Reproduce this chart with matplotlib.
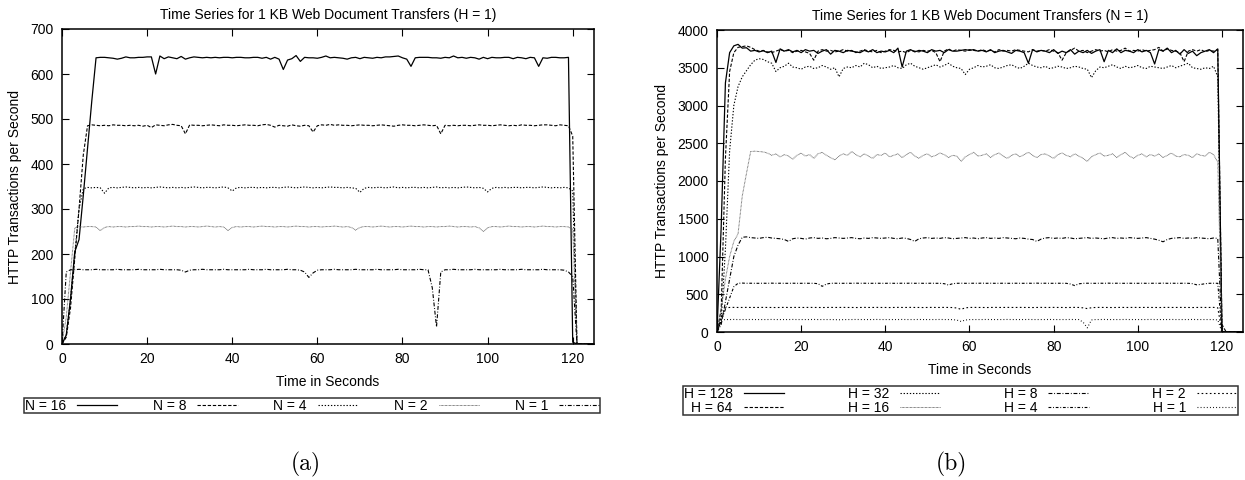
import matplotlib
matplotlib.use("Agg")
import matplotlib.pyplot as plt
import numpy as np

# ---------------- data ----------------
time_s = list(range(126))

# Panel (a): H = 1, varying N
n16 = [0, 20, 100, 205, 232, 330, 435, 540, 636, 637,
       637, 636, 635, 633, 635, 638, 636, 636, 637, 637,
       638, 638, 600, 640, 634, 638, 636, 634, 639, 633,
       636, 638, 637, 636, 637, 636, 637, 636, 637, 637,
       636, 637, 637, 636, 636, 637, 637, 635, 637, 633,
       637, 633, 610, 631, 634, 641, 628, 637, 636, 636,
       635, 637, 640, 636, 637, 636, 635, 633, 636, 637,
       634, 637, 636, 635, 637, 636, 638, 638, 639, 640,
       636, 633, 617, 636, 637, 637, 637, 636, 636, 635,
       637, 636, 640, 636, 637, 635, 637, 636, 633, 637,
       634, 637, 636, 636, 637, 637, 634, 637, 636, 634,
       637, 636, 617, 636, 635, 637, 637, 636, 636, 637,
       4, 0, 0, 0, 0, 0]
n8 = [0, 15, 80, 190, 300, 420, 485, 487, 486, 485,
      486, 485, 487, 486, 486, 485, 486, 485, 486, 484,
      486, 481, 487, 486, 485, 487, 488, 486, 485, 467,
      487, 486, 486, 485, 486, 487, 486, 485, 487, 486,
      486, 485, 486, 487, 486, 486, 485, 487, 488, 486,
      482, 486, 485, 484, 487, 485, 484, 486, 485, 471,
      485, 487, 486, 488, 486, 487, 486, 486, 485, 486,
      487, 486, 486, 485, 486, 487, 486, 485, 484, 486,
      487, 486, 486, 485, 486, 487, 486, 485, 486, 467,
      486, 485, 486, 485, 486, 486, 485, 486, 487, 486,
      486, 485, 486, 487, 486, 485, 486, 485, 487, 486,
      486, 485, 486, 487, 487, 486, 485, 487, 486, 485,
      462, 0, 0, 0, 0, 0]
n4 = [0, 20, 100, 200, 300, 345, 348, 347, 348, 347,
      335, 347, 348, 347, 348, 349, 348, 347, 348, 347,
      348, 347, 348, 349, 348, 347, 348, 347, 348, 347,
      348, 349, 348, 347, 348, 348, 347, 348, 349, 347,
      340, 347, 348, 347, 348, 348, 347, 348, 347, 348,
      348, 347, 348, 349, 348, 347, 348, 349, 348, 347,
      348, 347, 348, 349, 348, 348, 347, 348, 347, 346,
      337, 346, 348, 347, 348, 348, 347, 348, 349, 347,
      348, 347, 348, 348, 347, 348, 347, 348, 349, 347,
      348, 347, 348, 347, 348, 349, 348, 347, 348, 346,
      338, 346, 348, 347, 348, 347, 348, 348, 347, 348,
      348, 347, 348, 349, 348, 347, 348, 347, 348, 347,
      340, 0, 0, 0, 0, 0]
n2 = [0, 60, 160, 258, 261, 260, 261, 261, 260, 252,
      259, 261, 260, 261, 261, 260, 261, 261, 262, 261,
      261, 260, 261, 261, 260, 261, 262, 261, 261, 260,
      261, 261, 260, 261, 262, 261, 260, 261, 260, 252,
      259, 261, 260, 261, 261, 260, 261, 262, 261, 261,
      260, 261, 261, 260, 261, 262, 261, 261, 260, 261,
      261, 260, 261, 261, 262, 261, 260, 261, 259, 253,
      259, 261, 261, 260, 261, 262, 261, 260, 261, 261,
      260, 261, 262, 261, 261, 260, 261, 261, 260, 261,
      261, 262, 261, 260, 261, 261, 260, 261, 258, 250,
      258, 261, 261, 260, 261, 262, 261, 261, 260, 261,
      261, 260, 261, 262, 261, 261, 260, 261, 261, 260,
      255, 0, 0, 0, 0, 0]
n1 = [0, 160, 165, 165, 166, 165, 165, 165, 166, 165,
      165, 165, 165, 166, 165, 165, 165, 165, 166, 165,
      165, 165, 165, 166, 165, 165, 165, 165, 164, 160,
      164, 165, 165, 166, 165, 165, 165, 165, 166, 165,
      165, 165, 165, 165, 166, 165, 165, 165, 166, 165,
      165, 165, 165, 166, 165, 165, 164, 160, 148, 158,
      164, 165, 165, 165, 166, 165, 165, 165, 165, 166,
      165, 165, 165, 165, 166, 165, 165, 165, 165, 166,
      165, 165, 165, 165, 166, 165, 165, 125, 38, 160,
      165, 165, 166, 165, 165, 165, 165, 166, 165, 165,
      165, 165, 165, 166, 165, 165, 165, 165, 166, 165,
      165, 165, 165, 166, 165, 165, 165, 165, 164, 160,
      150, 0, 0, 0, 0, 0]

# Panel (b): N = 1, varying H
h128 = [0, 1400, 3300, 3700, 3790, 3810, 3760, 3765, 3720, 3730,
        3710, 3725, 3700, 3720, 3570, 3750, 3720, 3740, 3710, 3730,
        3700, 3740, 3720, 3730, 3690, 3720, 3740, 3680, 3730, 3720,
        3700, 3730, 3720, 3710, 3700, 3730, 3710, 3740, 3700, 3720,
        3710, 3730, 3700, 3760, 3510, 3720, 3740, 3710, 3730, 3720,
        3700, 3740, 3720, 3730, 3700, 3740, 3720, 3720, 3730, 3740,
        3730, 3740, 3720, 3730, 3710, 3740, 3700, 3720, 3730, 3710,
        3690, 3730, 3720, 3700, 3560, 3740, 3710, 3730, 3720, 3700,
        3740, 3690, 3720, 3700, 3740, 3680, 3720, 3700, 3730, 3690,
        3720, 3740, 3580, 3730, 3700, 3750, 3700, 3730, 3720, 3700,
        3740, 3710, 3730, 3700, 3550, 3740, 3720, 3760, 3700, 3730,
        3680, 3740, 3690, 3720, 3660, 3700, 3720, 3740, 3700, 3750,
        0, 0, 0, 0, 0, 0]
h64 = [0, 300, 2300, 3450, 3700, 3770, 3780, 3790, 3770, 3740,
       3720, 3730, 3710, 3700, 3720, 3740, 3720, 3730, 3700, 3720,
       3730, 3710, 3690, 3600, 3720, 3740, 3720, 3730, 3710, 3720,
       3740, 3720, 3730, 3700, 3720, 3740, 3720, 3710, 3730, 3700,
       3720, 3740, 3730, 3710, 3720, 3700, 3730, 3720, 3710, 3730,
       3720, 3730, 3700, 3580, 3720, 3750, 3720, 3740, 3730, 3720,
       3740, 3730, 3720, 3740, 3720, 3730, 3710, 3740, 3720, 3730,
       3720, 3740, 3730, 3720, 3710, 3740, 3720, 3730, 3720, 3740,
       3720, 3700, 3600, 3700, 3730, 3760, 3720, 3730, 3700, 3720,
       3740, 3720, 3730, 3710, 3740, 3720, 3730, 3760, 3720, 3730,
       3720, 3740, 3720, 3730, 3740, 3770, 3720, 3750, 3730, 3720,
       3700, 3580, 3720, 3740, 3720, 3740, 3710, 3730, 3720, 3740,
       100, 0, 0, 0, 0, 0]
h32 = [0, 150, 1100, 2400, 3000, 3250, 3380, 3460, 3540, 3600,
       3620, 3610, 3580, 3560, 3450, 3500, 3520, 3560, 3510, 3500,
       3480, 3510, 3520, 3490, 3500, 3530, 3510, 3480, 3500, 3380,
       3490, 3510, 3500, 3530, 3510, 3560, 3540, 3500, 3520, 3490,
       3500, 3510, 3530, 3500, 3490, 3540, 3560, 3520, 3500, 3480,
       3500, 3520, 3540, 3510, 3530, 3560, 3520, 3500, 3490, 3410,
       3480, 3500, 3530, 3510, 3520, 3540, 3500, 3490, 3510, 3530,
       3540, 3510, 3490, 3520, 3560, 3530, 3510, 3500, 3520, 3490,
       3500, 3520, 3510, 3490, 3500, 3520, 3510, 3490, 3480, 3370,
       3460, 3510, 3500, 3520, 3540, 3510, 3490, 3520, 3500, 3510,
       3530, 3500, 3490, 3520, 3510, 3500, 3490, 3510, 3530, 3500,
       3520, 3540, 3560, 3500, 3490, 3480, 3500, 3490, 3520, 3380,
       0, 0, 0, 0, 0, 0]
h16 = [0, 300, 700, 1000, 1200, 1300, 1800, 2100, 2390, 2395,
       2390, 2385, 2370, 2340, 2360, 2320, 2350, 2330, 2290, 2340,
       2370, 2330, 2350, 2300, 2360, 2380, 2340, 2310, 2280, 2330,
       2360, 2340, 2390, 2350, 2320, 2360, 2330, 2300, 2350, 2340,
       2370, 2320, 2340, 2360, 2310, 2350, 2380, 2330, 2300, 2340,
       2360, 2320, 2340, 2370, 2350, 2310, 2340, 2330, 2260, 2320,
       2350, 2380, 2330, 2340, 2360, 2310, 2350, 2370, 2330, 2300,
       2340, 2360, 2320, 2350, 2380, 2340, 2310, 2350, 2360, 2330,
       2300, 2350, 2370, 2340, 2320, 2360, 2330, 2300, 2260, 2320,
       2350, 2370, 2330, 2340, 2360, 2310, 2350, 2380, 2330, 2300,
       2340, 2360, 2320, 2350, 2330, 2360, 2310, 2340, 2370, 2330,
       2320, 2350, 2340, 2310, 2360, 2340, 2330, 2380, 2350, 2250,
       0, 0, 0, 0, 0, 0]
h8 = [0, 100, 400, 700, 1000, 1150, 1255, 1260, 1250, 1245,
      1240, 1250, 1255, 1245, 1240, 1235, 1225, 1200, 1235, 1245,
      1240, 1230, 1245, 1250, 1240, 1245, 1235, 1240, 1250, 1245,
      1240, 1245, 1250, 1240, 1235, 1245, 1240, 1250, 1245, 1240,
      1245, 1250, 1240, 1235, 1245, 1240, 1225, 1200, 1235, 1245,
      1250, 1240, 1245, 1240, 1250, 1245, 1235, 1240, 1245, 1250,
      1240, 1245, 1235, 1245, 1250, 1240, 1245, 1240, 1250, 1245,
      1240, 1235, 1245, 1240, 1230, 1225, 1200, 1230, 1245, 1250,
      1240, 1245, 1240, 1250, 1245, 1235, 1240, 1245, 1250, 1240,
      1245, 1240, 1235, 1245, 1250, 1240, 1245, 1240, 1250, 1245,
      1240, 1245, 1250, 1240, 1230, 1215, 1195, 1225, 1240, 1245,
      1250, 1240, 1245, 1240, 1250, 1245, 1240, 1235, 1245, 1240,
      0, 0, 0, 0, 0, 0]
h4 = [0, 150, 300, 450, 600, 645, 648, 645, 646, 645,
      645, 646, 645, 647, 645, 646, 645, 645, 646, 645,
      645, 646, 645, 645, 640, 605, 635, 645, 646, 645,
      645, 646, 645, 647, 645, 646, 645, 645, 646, 645,
      645, 646, 645, 645, 646, 645, 647, 645, 646, 645,
      645, 646, 645, 645, 640, 622, 640, 645, 646, 645,
      645, 646, 645, 647, 645, 646, 645, 645, 646, 645,
      645, 646, 645, 645, 646, 645, 647, 645, 646, 645,
      645, 646, 645, 645, 635, 615, 638, 645, 646, 645,
      645, 646, 645, 647, 645, 646, 645, 645, 646, 645,
      645, 646, 645, 645, 646, 645, 647, 645, 646, 645,
      645, 646, 645, 640, 625, 630, 640, 645, 646, 645,
      0, 0, 0, 0, 0, 0]
h2 = [0, 200, 320, 325, 326, 325, 325, 326, 325, 325,
      325, 326, 325, 325, 324, 325, 326, 325, 325, 326,
      325, 325, 326, 325, 325, 324, 325, 326, 325, 325,
      326, 325, 325, 324, 325, 326, 325, 325, 326, 325,
      325, 324, 325, 326, 325, 325, 326, 325, 325, 324,
      325, 326, 325, 325, 326, 325, 324, 318, 300, 320,
      325, 326, 325, 325, 324, 325, 326, 325, 325, 326,
      325, 325, 326, 325, 325, 324, 325, 326, 325, 325,
      326, 325, 325, 324, 325, 326, 325, 320, 310, 322,
      325, 326, 325, 325, 324, 325, 326, 325, 325, 326,
      325, 325, 326, 325, 325, 324, 325, 326, 325, 325,
      326, 325, 325, 324, 325, 326, 325, 325, 326, 320,
      0, 0, 0, 0, 0, 0]
h1 = [0, 160, 165, 165, 166, 165, 165, 165, 166, 165,
      165, 165, 165, 166, 165, 165, 165, 165, 166, 165,
      165, 165, 165, 166, 165, 165, 165, 165, 164, 162,
      164, 165, 165, 166, 165, 165, 165, 165, 166, 165,
      165, 165, 165, 165, 166, 165, 165, 165, 166, 165,
      165, 165, 165, 166, 165, 165, 164, 158, 140, 158,
      164, 165, 165, 165, 166, 165, 165, 165, 165, 166,
      165, 165, 165, 165, 166, 165, 165, 165, 165, 166,
      165, 165, 165, 165, 166, 165, 165, 130, 55, 160,
      165, 165, 166, 165, 165, 165, 165, 166, 165, 165,
      165, 165, 165, 166, 165, 165, 165, 165, 166, 165,
      165, 165, 165, 166, 165, 165, 165, 165, 164, 160,
      0, 0, 0, 0, 0, 0]

labels_a = ["N = 16", "N = 8", "N = 4", "N = 2", "N = 1"]
labels_b = ["H = 128", "H = 64", "H = 32", "H = 16", "H = 8", "H = 4", "H = 2", "H = 1"]
title_a = "Time Series for 1 KB Web Document Transfers (H = 1)"
title_b = "Time Series for 1 KB Web Document Transfers (N = 1)"
xticks = [0, 20, 40, 60, 80, 100, 120]
yticks_a = [0, 100, 200, 300, 400, 500, 600, 700]
yticks_b = [0, 500, 1000, 1500, 2000, 2500, 3000, 3500, 4000]

# ---------------- styles ----------------
plt.rcParams['font.family'] = ['Liberation Sans', 'DejaVu Sans']
FS = 10
W, H = 1245, 480
fig = plt.figure(figsize=(W / 100, H / 100), dpi=100)

styles = [
    dict(color='black', linestyle='-', lw=0.9),
    dict(color='black', linestyle=(0, (3.0, 1.6)), lw=0.8),
    dict(color='black', linestyle=(0, (1.2, 1.6)), lw=0.8),
    dict(color='#555555', linestyle=(0, (0.7, 0.7)), lw=0.7),
    dict(color='black', linestyle=(0, (3.5, 1.6, 0.8, 1.6)), lw=0.8),
    dict(color='black', linestyle=(0, (2.5, 1.6, 0.8, 1.6)), lw=0.8),
    dict(color='black', linestyle=(0, (1.5, 2.2)), lw=0.8),
    dict(color='black', linestyle=(0, (0.8, 2.0)), lw=0.8),
]


def px_axes(l, t, r, b):
    return fig.add_axes([l / W, 1 - b / H, (r - l) / W, (b - t) / H])


def style_axes(ax, yticks, ymax):
    ax.set_xlim(0, 125)
    ax.set_ylim(0, ymax)
    ax.set_xticks(xticks)
    ax.set_yticks(yticks)
    ax.tick_params(direction='in', top=True, right=True, length=5, width=0.8,
                   labelsize=FS, pad=6)
    for s in ax.spines.values():
        s.set_linewidth(1.1)
    ax.set_xlabel("Time in Seconds", fontsize=FS, labelpad=6)
    ax.set_ylabel("HTTP Transactions per Second", fontsize=FS, labelpad=6)


def add_legend(handles, labels, ncol, left, top, right, bpad):
    leg = fig.legend(handles=handles, labels=labels, ncol=ncol, mode='expand',
                     loc='upper left',
                     bbox_to_anchor=(left / W, 1 - top / H, (right - left) / W, 0),
                     markerfirst=False, fontsize=FS, frameon=True,
                     fancybox=False, edgecolor='black', borderpad=bpad,
                     handlelength=2.9, handletextpad=0.8, labelspacing=0.0,
                     borderaxespad=0, columnspacing=1.0)
    leg.get_frame().set_linewidth(1.1)
    return leg


# Panel (a)
ax1 = px_axes(62, 29, 594, 344)
series_a = [n16, n8, n4, n2, n1]
lines_a = []
for vals, lab, st in zip(series_a, labels_a, styles[:5]):
    ln, = ax1.plot(time_s, vals, label=lab, **st)
    lines_a.append(ln)
style_axes(ax1, yticks_a, 700)
ax1.set_title(title_a, fontsize=FS, pad=7)
add_legend(lines_a, labels_a, 5, 24, 398, 600, 0.05)

# Panel (b)
ax2 = px_axes(717, 30, 1243, 332)
series_b = [h128, h64, h32, h16, h8, h4, h2, h1]
lines_b = []
for vals, lab, st in zip(series_b, labels_b, styles):
    ln, = ax2.plot(time_s, vals, label=lab, **st)
    lines_b.append(ln)
style_axes(ax2, yticks_b, 4000)
ax2.set_title(title_b, fontsize=FS, pad=7)
add_legend(lines_b, labels_b, 4, 683, 386, 1238, 0.05)

fig.text(306 / W, 1 - 464 / H, "(a)", family='cmr10', fontsize=17,
         ha='center', va='center')
fig.text(951 / W, 1 - 464 / H, "(b)", family='cmr10', fontsize=17,
         ha='center', va='center')

fig.savefig("out.png", dpi=100)
